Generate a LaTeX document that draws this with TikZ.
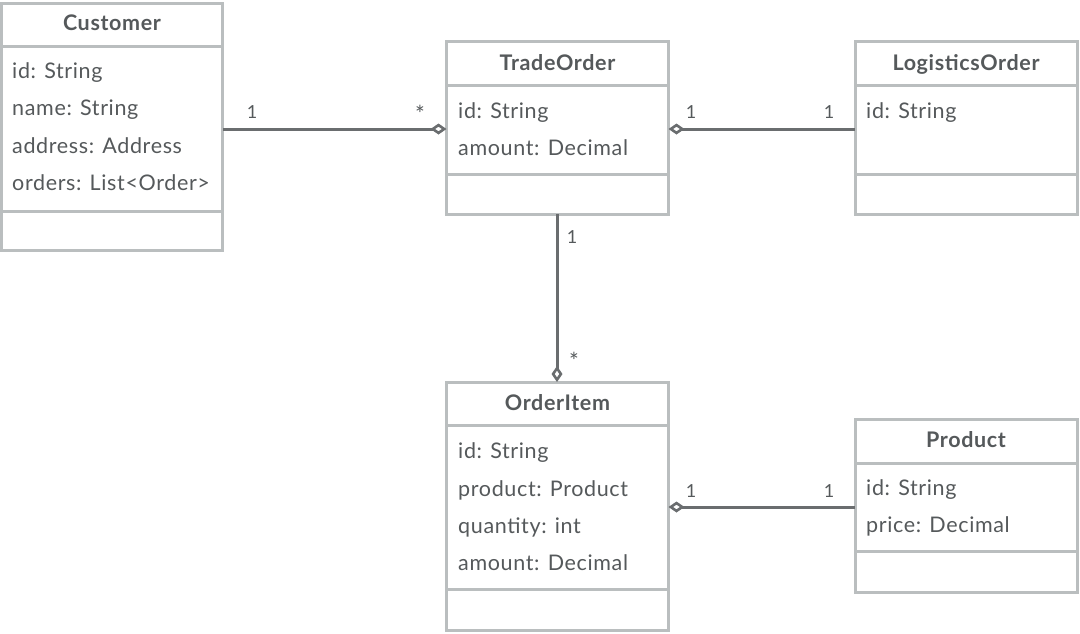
\documentclass[tikz,border=0pt]{standalone}
\usepackage{fontspec}
\setmainfont{Lato}[LetterSpace=3]
\usetikzlibrary{arrows.meta}
\definecolor{txtc}{HTML}{55595B}
\definecolor{brdc}{HTML}{BABEBF}
\definecolor{linec}{HTML}{6A6D6F}
\begin{document}
\begin{tikzpicture}[x=1pt,y=-1pt,
  classbox/.style={draw=brdc, line width=3pt, fill=white, rectangle, outer sep=0pt, inner sep=0pt},
  sepline/.style={draw=brdc, line width=3pt},
  ctitle/.style={font=\fontsize{21.5}{24}\selectfont\bfseries, text=txtc, anchor=base, inner sep=0pt},
  cattr/.style={font=\fontsize{21.5}{24}\selectfont, text=txtc, anchor=base west, inner sep=0pt},
  mult/.style={font=\fontsize{18}{20}\selectfont, text=txtc, anchor=base, inner sep=0pt},
  star/.style={font=\fontsize{23}{24}\selectfont, text=txtc, anchor=base, inner sep=0pt},
  assoc/.style={draw=linec, line width=3pt},
  agg/.style={assoc, {Diamond[length=16pt,width=11pt,fill=white,line width=2.6pt]}-}
]
\useasboundingbox (0,0) rectangle (1080,633);

% Customer
\node[classbox, minimum width=221pt, minimum height=247pt] (cust) at (112,126.5) {};
\draw[sepline] (cust.west |- 0,46.5) -- (cust.east |- 0,46.5);
\draw[sepline] (cust.west |- 0,211) -- (cust.east |- 0,211);
\node[ctitle] (custT) at (112,30) {Customer};
\node[cattr] (custA1) at (12,78) {id: String};
\node[cattr] (custA2) at (12,115) {name: String};
\node[cattr] (custA3) at (12,153) {address: Address};
\node[cattr] (custA4) at (12,190) {orders: List<Order>};

% TradeOrder
\node[classbox, minimum width=222pt, minimum height=173pt] (trade) at (557.5,127.5) {};
\draw[sepline] (trade.west |- 0,85) -- (trade.east |- 0,85);
\draw[sepline] (trade.west |- 0,174) -- (trade.east |- 0,174);
\node[ctitle] (tradeT) at (557.5,70) {TradeOrder};
\node[cattr] (tradeA1) at (458,118) {id: String};
\node[cattr] (tradeA2) at (458,155) {amount: Decimal};

% LogisticsOrder
\node[classbox, minimum width=222pt, minimum height=173pt] (logi) at (966,127.5) {};
\draw[sepline] (logi.west |- 0,85) -- (logi.east |- 0,85);
\draw[sepline] (logi.west |- 0,174) -- (logi.east |- 0,174);
\node[ctitle] (logiT) at (966,70) {LogisticsOrder};
\node[cattr] (logiA1) at (866,118) {id: String};

% OrderItem
\node[classbox, minimum width=222pt, minimum height=248pt] (item) at (557.5,506) {};
\draw[sepline] (item.west |- 0,425) -- (item.east |- 0,425);
\draw[sepline] (item.west |- 0,589) -- (item.east |- 0,589);
\node[ctitle] (itemT) at (557.5,410) {OrderItem};
\node[cattr] (itemA1) at (458,458) {id: String};
\node[cattr] (itemA2) at (458,496) {product: Product};
\node[cattr] (itemA3) at (458,533) {quantity: int};
\node[cattr] (itemA4) at (458,570) {amount: Decimal};

% Product
\node[classbox, minimum width=222pt, minimum height=173pt] (prod) at (966,505.5) {};
\draw[sepline] (prod.west |- 0,463) -- (prod.east |- 0,463);
\draw[sepline] (prod.west |- 0,551) -- (prod.east |- 0,551);
\node[ctitle] (prodT) at (966,447) {Product};
\node[cattr] (prodA1) at (866,495) {id: String};
\node[cattr] (prodA2) at (866,532) {price: Decimal};

% connector levels
\coordinate (yTop) at (0,129);
\coordinate (yBot) at (0,507);
\coordinate (xMid) at (557,0);

% connectors
\draw[agg] (trade.west |- yTop) -- (cust.east |- yTop);
\draw[agg] (trade.east |- yTop) -- (logi.west |- yTop);
\draw[agg] (item.north -| xMid) -- (trade.south -| xMid);
\draw[agg] (item.east |- yBot) -- (prod.west |- yBot);

% multiplicities
\node[mult] (m1) at (252,118) {1};
\node[star] (m2) at (420,122) {*};
\node[mult] (m3) at (691,118) {1};
\node[mult] (m4) at (829,118) {1};
\node[mult] (m5) at (572,243) {1};
\node[star] (m6) at (574,369) {*};
\node[mult] (m7) at (691,497) {1};
\node[mult] (m8) at (829,497) {1};
\end{tikzpicture}
\end{document}
